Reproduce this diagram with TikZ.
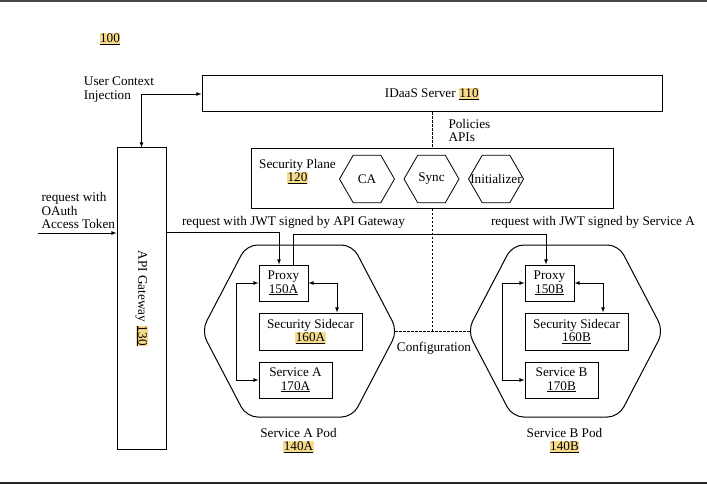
\documentclass[tikz,border=0pt]{standalone}
\usepackage{fontspec}
\setmainfont{Liberation Serif}
\usepackage{tikz}
\usetikzlibrary{arrows, shapes.geometric}
\definecolor{hlyellow}{rgb}{0.97, 0.86, 0.55}
\definecolor{bardark}{rgb}{0.28, 0.28, 0.28}
\newcommand{\hlnum}[1]{{\setlength{\fboxsep}{0.4pt}\colorbox{hlyellow}{\underline{#1}}}}

\begin{document}
\begin{tikzpicture}[x=1pt, y=-1pt, >=latex,
		font=\fontsize{13.2}{13.5}\selectfont,
		box/.style={draw, line width=1pt, inner sep=0pt, align=center},
		hexa/.style={draw, line width=0.8pt, regular polygon, regular polygon sides=6, minimum size=55pt, inner sep=0pt},
		pod/.style={draw, line width=1pt, rounded corners=11pt},
		link/.style={line width=0.8pt},
		cfg/.style={line width=0.8pt, dash pattern=on 2.5pt off 1.5pt}]
		\useasboundingbox (0,0) rectangle (707,484);
		\fill [bardark] (0,0) rectangle (707,2.3);
		\fill [black!85] (0,481.5) rectangle (707,484);
		\node (fig) at (110,39) {\hlnum{100}};
		\node [box, minimum width=460pt, minimum height=36pt] (idaas) at (432,94) {IDaaS Server \hlnum{110}};
		\node [box, minimum width=49pt, minimum height=301pt] (gw) at (141.5,298.5) {};
		\node [rotate=-90] (gwlbl) at (gw.center) {API Gateway \hlnum{130}};
		\node [box, minimum width=362pt, minimum height=59pt] (sp) at (432,178.5) {};
		\node [align=center] (splbl) at (297.5,171.5) {Security Plane\\\hlnum{120}};
		\foreach \n/\x/\t in {ca/367/CA, sync/431.5/Sync, init/496/Initializer}{
			\node [hexa, label=center:\t] (\n) at (\x,179) {};
		}
		\foreach \p/\cx/\scnum in {A/299.5/\hlnum{160A}, B/565.5/\underline{160B}}{
			\draw [pod] (\cx-98,331) coordinate (podW\p) -- (\cx-53,245) -- (\cx+53,245) -- (\cx+98,331) coordinate (podE\p) -- (\cx+53,417) -- (\cx-53,417) -- cycle;
			\node [box, minimum width=49pt, minimum height=36pt] (px\p) at (\cx-16,283) {Proxy\\\underline{150\p}};
			\node [box, minimum width=103pt, minimum height=37pt] (sc\p) at (\cx+11,331.5) {Security Sidecar\\\scnum};
			\node [box, minimum width=73pt, minimum height=36pt] (sv\p) at (\cx-4,380) {Service \p\\\underline{170\p}};
			\draw [link, <->] (px\p.east) -| ([xshift=26.5pt]sc\p.north);
			\draw [link, <->] (px\p.west) -- ++(-22,0) |- (sv\p.west);
			\node [align=center] (podlbl\p) at (\cx-1,440.5) {Service \p{} Pod\\\hlnum{140\p}};
		}
		% requests
		\node [align=left] (ctxlbl) at (119,89.5) {User Context\\Injection};
		\draw [link, <->] (gw.north) |- (idaas.west);
		\coordinate (oauth) at (38,233);
		\node [align=left, anchor=west] (oauthlbl) at (38,210.5) {request with\\OAuth\\Access Token};
		\draw [link, ->] (oauth) -- (oauth -| gw.west);
		\coordinate (busA) at (279,232);
		\coordinate (busB) at (546,234);
		\node (jwtAlbl) at (293.5,222) {request with JWT signed by API Gateway};
		\node (jwtBlbl) at (593,222) {request with JWT signed by Service A};
		\draw [link, ->] (gw.east |- busA) -| (busA |- pxA.north);
		\draw [link, ->] ([xshift=9.5pt]pxA.north) |- (busB) -- (busB |- pxB.north);
		% policies and configuration
		\draw [cfg] (idaas.south) -- (sp.north);
		\draw [cfg] (sp.south) -- (sp.south |- podEA);
		\draw [cfg, shorten <=-2.5pt, shorten >=-2.5pt] (podEA) -- (podWB);
		\node [align=left, anchor=west] (pollbl) at (445,130.5) {Policies\\APIs};
		\node (cfglbl) at (434,348) {Configuration};
	\end{tikzpicture}
\end{document}
